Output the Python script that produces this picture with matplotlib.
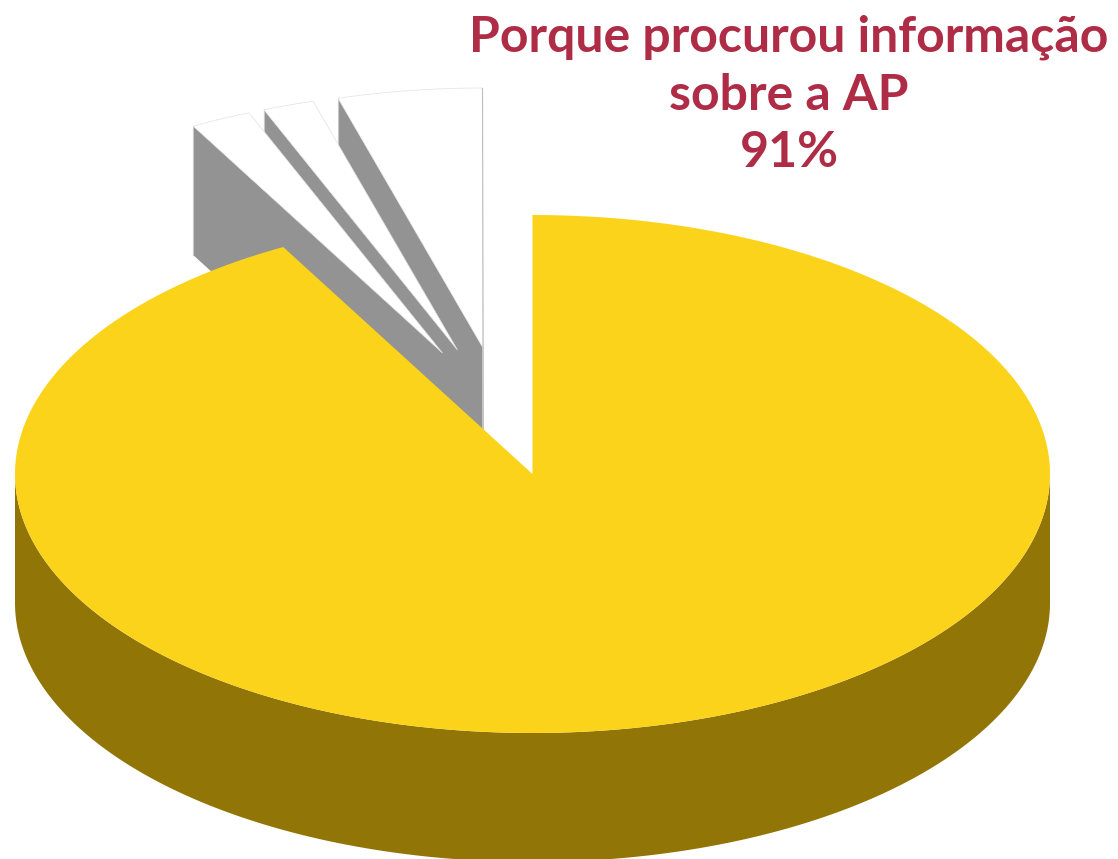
#!/usr/bin/env python
# -*- Coding:utf-8 -*-
'''exploded 3d looking pie, drawn by hand because matplotlib pie is flat'''

import matplotlib
matplotlib.use('Agg')
import matplotlib.pyplot as plt
import numpy as np

# share of each slice, clockwise from 12 o'clock
shares = [92.0, 1.9, 1.6, 4.5]
title_lines = ['Porque procurou informação', 'sobre a AP', '91%']

# pie geometry in pixels
cx, cy = 532.5, 474
rx, ry = 517.5, 259
depth = 129
# how far each slice is pulled out, in pixels
pull_x = [0, -90, -75, -50]
pull_y = [0, -121, -124, -127]

colors_top = ['#FCD31B', 'white', 'white', 'white']
colors_side = ['#917506', '#939393', '#939393', '#939393']

fig = plt.figure(figsize=(11.18, 8.59), dpi=100)
ax = fig.add_axes([0, 0, 1, 1])
ax.set_xlim(0, 1118)
ax.set_ylim(859, 0)
ax.axis('off')


def arc(a0, a1, ox=0, oy=0):
    # angles in degrees clockwise from the top
    t = np.radians(np.linspace(a0, a1, 400))
    return cx + ox + rx * np.sin(t), cy + oy - ry * np.cos(t)


edges = np.concatenate([[0], np.cumsum(shares)]) / sum(shares) * 360

# small slices first, right to left, the big one goes over them
for i in [3, 2, 1]:
    a0, a1 = edges[i], edges[i + 1]
    ox, oy = pull_x[i], pull_y[i]
    x, y = arc(a0, a1, ox, oy)
    apex_x, apex_y = cx + ox, cy + oy
    z = 10 - 2 * i  # lines would otherwise sit on top of every fill
    # the radial face on the left is the one looking at us
    ax.fill([apex_x, x[0], x[0], apex_x],
            [apex_y, y[0], y[0] + depth, apex_y + depth],
            color=colors_side[i], lw=0, zorder=z)
    ax.plot([x[0], x[0]], [y[0], y[0] + depth], color='#c8c8c8', lw=0.8, zorder=z)
    ax.fill(np.r_[apex_x, x], np.r_[apex_y, y], facecolor=colors_top[i],
            edgecolor='#e2e2e2', lw=0.5, zorder=z + 1)
    if i == 3:
        ax.plot([x[-1], apex_x], [y[-1], apex_y + depth], color='#bdbdbd',
                lw=0.8, zorder=z + 1)

# big slice: outer wall then top
a0, a1 = edges[0], edges[1]
x, y = arc(max(a0, 90), min(a1, 270))
ax.fill(np.r_[x, x[::-1]], np.r_[y, y[::-1] + depth], color=colors_side[0],
        lw=0, zorder=10)
x, y = arc(a0, a1)
ax.fill(np.r_[cx, x], np.r_[cy, y], color=colors_top[0], lw=0, zorder=11)
ax.plot([cx, cx], [cy, cy - ry], color='#bdbdbd', lw=0.8, zorder=10)

for line, base in zip(title_lines, [52, 110, 167]):
    ax.text(789, base, line, ha='center', va='baseline', color='#AE2C45',
            fontsize=36, fontweight='bold', family='Lato', zorder=12)

fig.savefig('out.png', dpi=100)
